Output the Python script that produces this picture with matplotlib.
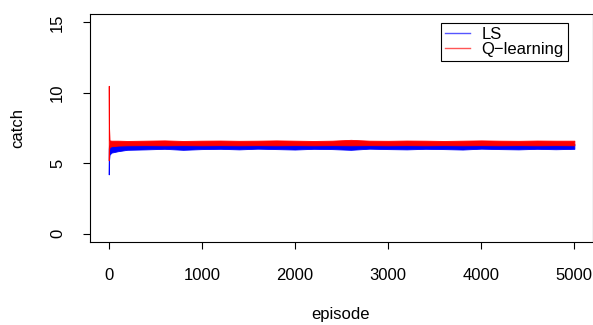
import matplotlib

matplotlib.use("Agg")
import matplotlib.pyplot as plt

# envelope of the noisy per-episode catch
episode = [1, 3, 10, 30, 100, 200, 400, 600, 800, 1000, 1200, 1400, 1600, 1800,
           2000, 2200, 2400, 2600, 2800, 3000, 3200, 3400, 3600, 3800, 4000,
           4200, 4400, 4600, 4800, 5000]
ls_low = [4.2, 5.1, 5.6, 5.75, 5.85, 5.95, 5.98, 6.02, 5.95, 6.0, 6.02, 5.98,
          6.03, 6.0, 5.97, 6.02, 6.0, 5.95, 6.03, 6.0, 5.98, 6.02, 6.0, 5.97,
          6.03, 6.0, 5.98, 6.02, 5.99, 6.02]
ls_high = [6.0, 6.2, 6.3, 6.32, 6.35, 6.36, 6.36, 6.37, 6.36, 6.37, 6.36, 6.37,
           6.36, 6.37, 6.36, 6.37, 6.36, 6.37, 6.36, 6.37, 6.36, 6.37, 6.36,
           6.37, 6.36, 6.37, 6.36, 6.37, 6.36, 6.37]
q_low = [5.2, 5.9, 6.15, 6.2, 6.25, 6.27, 6.28, 6.27, 6.28, 6.27, 6.28, 6.27,
         6.28, 6.27, 6.28, 6.27, 6.28, 6.27, 6.28, 6.27, 6.28, 6.27, 6.28,
         6.27, 6.28, 6.27, 6.28, 6.27, 6.28, 6.27]
q_high = [10.5, 7.8, 6.62, 6.6, 6.6, 6.58, 6.6, 6.62, 6.58, 6.6, 6.61, 6.59,
          6.6, 6.62, 6.6, 6.58, 6.6, 6.66, 6.6, 6.59, 6.61, 6.6, 6.58, 6.6,
          6.62, 6.6, 6.59, 6.61, 6.6, 6.6]

x_ticks = [0, 1000, 2000, 3000, 4000, 5000]
y_ticks = [0, 5, 10, 15]

plt.rcParams.update({"font.family": ["Liberation Sans", "DejaVu Sans"], "font.size": 12})

fig = plt.figure(figsize=(5.93, 3.25), dpi=100)
ax = fig.add_axes([90 / 593, 1 - 242 / 325, 503 / 593, 228 / 325])

ax.fill_between(episode, ls_low, ls_high, color="#0000ff", lw=0.6, edgecolor="#0000ff")
ax.fill_between(episode, q_low, q_high, color="#ff0000", lw=0.6, edgecolor="#ff0000")

# legend handles (R-style box)
ax.plot([], [], color="#5555ff", lw=1, label="LS")
ax.plot([], [], color="#ff5555", lw=1, label="Q\u2212learning")
leg = ax.legend(loc="upper right", bbox_to_anchor=(0.950, 0.961), borderaxespad=0,
                fancybox=False, framealpha=1, edgecolor="black", handlelength=1.5,
                handletextpad=0.7, labelspacing=0.0, borderpad=0.25, fontsize=12)
leg.get_frame().set_linewidth(0.8)

ax.set_xlim(-199.96, 5199.96)
ax.set_ylim(-0.6, 15.6)
ax.set_xticks(x_ticks)
ax.set_yticks(y_ticks)
ax.tick_params(direction="out", length=5, width=0.8, color="black")
ax.tick_params(axis="x", pad=14)
ax.tick_params(axis="y", pad=13)
for lab in ax.get_yticklabels():
    lab.set_rotation(90)
    lab.set_va("center")
for sp in ax.spines.values():
    sp.set_linewidth(0.8)

fig.text(17.5 / 593, 1 - 128 / 325, "catch", rotation=90, ha="center", va="center")
fig.text(341 / 593, 1 - 315 / 325, "episode", ha="center", va="center")

fig.savefig("out.png", dpi=100)
